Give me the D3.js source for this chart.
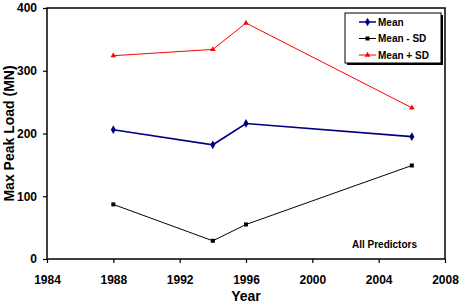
<!DOCTYPE html>
<html>
<head>
<meta charset="utf-8">
<script src="https://cdn.jsdelivr.net/npm/d3@7"></script>
<style>
  body { margin: 0; background: #fff; }
  text { font-family: "Liberation Sans", Arial, sans-serif; font-weight: bold; }
</style>
</head>
<body>
<div id="chart"></div>
<script>
// Data
const years = [1988, 1994, 1996, 2006];
const meanValues = [206, 182, 216, 195];
const minusSdValues = [87, 29, 55, 149];
const plusSdValues = [324, 334, 376, 241];
const xTicks = [1984, 1988, 1992, 1996, 2000, 2004, 2008];
const yTicks = [0, 100, 200, 300, 400];

const series = [
  { name: "Mean", values: meanValues, color: "#000080", width: 1.6, marker: "diamond" },
  { name: "Mean - SD", values: minusSdValues, color: "#000000", width: 1, marker: "square" },
  { name: "Mean + SD", values: plusSdValues, color: "#ff0000", width: 1, marker: "triangle" }
];

const W = 464, H = 303;
const margin = { top: 8, right: 19, bottom: 44, left: 47 };

const svg = d3.select("#chart").append("svg")
  .attr("width", W).attr("height", H);

const x = d3.scaleLinear().domain([1984, 2008]).range([margin.left, W - margin.right]);
const y = d3.scaleLinear().domain([0, 400]).range([H - margin.bottom, margin.top]);

// Axes
svg.append("g")
  .attr("transform", `translate(0,${H - margin.bottom})`)
  .call(d3.axisBottom(x).tickValues(xTicks).tickFormat(d3.format("d")).tickSize(4).tickPadding(12).tickSizeOuter(0))
  .call(g => g.select(".domain").remove())
  .call(g => g.selectAll("line").attr("stroke-width", 1.2))
  .call(g => g.selectAll("text").attr("font-size", 12).attr("fill", "#000"));

svg.append("g")
  .attr("transform", `translate(${margin.left},0)`)
  .call(d3.axisLeft(y).tickValues(yTicks).tickSize(4).tickPadding(6).tickSizeOuter(0))
  .call(g => g.select(".domain").remove())
  .call(g => g.selectAll("line").attr("stroke-width", 1.2))
  .call(g => g.selectAll("text").attr("font-size", 12).attr("fill", "#000"));

// Plot frame
svg.append("rect")
  .attr("x", margin.left).attr("y", margin.top)
  .attr("width", W - margin.left - margin.right)
  .attr("height", H - margin.top - margin.bottom)
  .attr("fill", "none").attr("stroke", "#000").attr("stroke-width", 1.5);

// Axis titles
svg.append("text")
  .attr("x", (margin.left + W - margin.right) / 2).attr("y", H - 2.5)
  .attr("text-anchor", "middle").attr("font-size", 14).text("Year");

svg.append("text")
  .attr("transform", `translate(14,${(margin.top + H - margin.bottom) / 2}) rotate(-90)`)
  .attr("text-anchor", "middle").attr("font-size", 14).text("Max Peak Load (MN)");

// Markers
const symbolFor = {
  diamond: d3.symbol().type(d3.symbolDiamond).size(22),
  square: d3.symbol().type(d3.symbolSquare).size(16),
  triangle: d3.symbol().type(d3.symbolTriangle).size(14)
};

const line = d3.line().x(d => x(d[0])).y(d => y(d[1]));

series.forEach(s => {
  const pts = years.map((yr, i) => [yr, s.values[i]]);
  svg.append("path")
    .datum(pts)
    .attr("d", line)
    .attr("fill", "none")
    .attr("stroke", s.color)
    .attr("stroke-width", s.width);
  svg.selectAll(null)
    .data(pts)
    .join("path")
    .attr("transform", d => `translate(${x(d[0])},${y(d[1])})`)
    .attr("d", symbolFor[s.marker]())
    .attr("fill", s.color);
});

// Legend
const lg = svg.append("g").attr("transform", "translate(345,13)");
lg.append("rect").attr("x", 2).attr("y", 2).attr("width", 96).attr("height", 50).attr("fill", "#000");
lg.append("rect").attr("width", 96).attr("height", 50).attr("fill", "#fff").attr("stroke", "#000").attr("stroke-width", 1);
series.forEach((s, i) => {
  const cy = 9 + i * 16.5;
  lg.append("line").attr("x1", 14).attr("x2", 31).attr("y1", cy).attr("y2", cy)
    .attr("stroke", s.color).attr("stroke-width", s.width > 1 ? 1.5 : 1);
  lg.append("path").attr("transform", `translate(22.5,${cy})`)
    .attr("d", symbolFor[s.marker]()).attr("fill", s.color);
  lg.append("text").attr("x", 33).attr("y", cy).attr("dy", "0.35em")
    .attr("font-size", 10).text(s.name);
});

// Annotation
svg.append("text")
  .attr("x", 417).attr("y", 248).attr("text-anchor", "end")
  .attr("font-size", 10).text("All Predictors");
</script>
</body>
</html>
